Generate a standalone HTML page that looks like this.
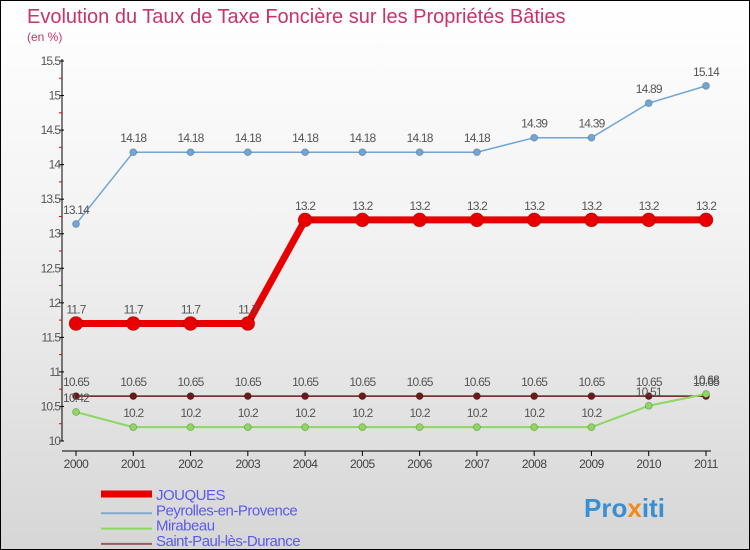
<!DOCTYPE html>
<html><head><meta charset="utf-8"><style>
body{margin:0}
#c{position:relative;width:750px;height:550px;box-sizing:border-box;border:1px solid #000;background:linear-gradient(#fff,#f3f3f3 40%,#d6d6d6);font-family:"Liberation Sans",sans-serif;overflow:hidden}
</style></head><body>
<div id="c">
<svg id="s" width="750" height="550" style="position:absolute;left:0;top:0" font-family="Liberation Sans, sans-serif">
<text x="26" y="22" font-size="20" fill="#c8336a">Evolution du Taux de Taxe Foncière sur les Propriétés Bâties</text>
<text x="26" y="40" font-size="12" fill="#c8336a">(en %)</text>
<text x="583" y="516" font-size="26" font-weight="bold" fill="#3a8fd0">Pro<tspan fill="#f08a1c">x</tspan>iti</text>
</svg>
</div>
<script>
const years=[2000,2001,2002,2003,2004,2005,2006,2007,2008,2009,2010,2011];
const jouques=[11.7,11.7,11.7,11.7,13.2,13.2,13.2,13.2,13.2,13.2,13.2,13.2];
const peyrolles=[13.14,14.18,14.18,14.18,14.18,14.18,14.18,14.18,14.39,14.39,14.89,15.14];
const mirabeau=[10.42,10.2,10.2,10.2,10.2,10.2,10.2,10.2,10.2,10.2,10.51,10.68];
const saintpaul=[10.65,10.65,10.65,10.65,10.65,10.65,10.65,10.65,10.65,10.65,10.65,10.65];
const yTicks=[10,10.5,11,11.5,12,12.5,13,13.5,14,14.5,15,15.5];
const ns="http://www.w3.org/2000/svg",s=document.getElementById('s');
const X=i=>75+i*(630/11), Y=v=>440-(v-10)*(380/5.5);
function mk(t,a,p){const e=document.createElementNS(ns,t);for(const k in a)e.setAttribute(k,a[k]);(p||s).appendChild(e);return e;}
let e=mk('line',{x1:61,y1:58,x2:61,y2:440,stroke:'#000'});


e=mk('line',{x1:61,y1:450,x2:710,y2:450,stroke:'#000'});


yTicks.forEach(v=>{mk('line',{x1:58,y1:Y(v),x2:63,y2:Y(v),stroke:'#000'});
if(v<15.5)mk('line',{x1:58,y1:Y(v+0.25),x2:61,y2:Y(v+0.25),stroke:'#e00'});
const t=mk('text',{x:59,y:Y(v)+4,'font-size':12,fill:'#555','text-anchor':'end','letter-spacing':'-1'});t.textContent=String(v);

});
years.forEach((y,i)=>{mk('line',{x1:X(i),y1:450,x2:X(i),y2:455,stroke:'#000'});
const t=mk('text',{x:X(i),y:467,'font-size':12,fill:'#444','text-anchor':'middle','letter-spacing':'-0.5'});t.textContent=y;

});
function series(d,col,w,r,name){
const g=mk('g',{});


mk('polyline',{points:d.map((v,i)=>X(i)+','+Y(v)).join(' '),fill:'none',stroke:col,'stroke-width':w},g);
d.forEach((v,i)=>{const c=mk('circle',{cx:X(i),cy:Y(v),r:r,fill:col,stroke:'#0003'},g);


const t=mk('text',{x:X(i),y:Y(v)-10,'font-size':12,fill:'#555','text-anchor':'middle','letter-spacing':'-0.8'},g);t.textContent=String(v);});}
series(saintpaul,'#6b1a1a',1.5,3.5,'saint-paul');
series(mirabeau,'#8cd860',2,3.5,'mirabeau');
series(peyrolles,'#6fa6d6',1.5,3.5,'peyrolles');
series(jouques,'#e80000',7,7,'jouques');
const leg=[['JOUQUES','#e80000',7],['Peyrolles-en-Provence','#7eaac8',2],['Mirabeau','#8cd860',2],['Saint-Paul-lès-Durance','#9b5a5a',2]];
leg.forEach((l,i)=>{const y=493+i*15.3;
mk('line',{x1:100,y1:y+(i?4:0),x2:151,y2:y+(i?4:0),stroke:l[1],'stroke-width':l[2]});
const t=mk('text',{x:155,y:y+6,'font-size':15,fill:'#5a5aee','letter-spacing':'-0.5'});t.textContent=l[0];

});
</script>
</body></html>
